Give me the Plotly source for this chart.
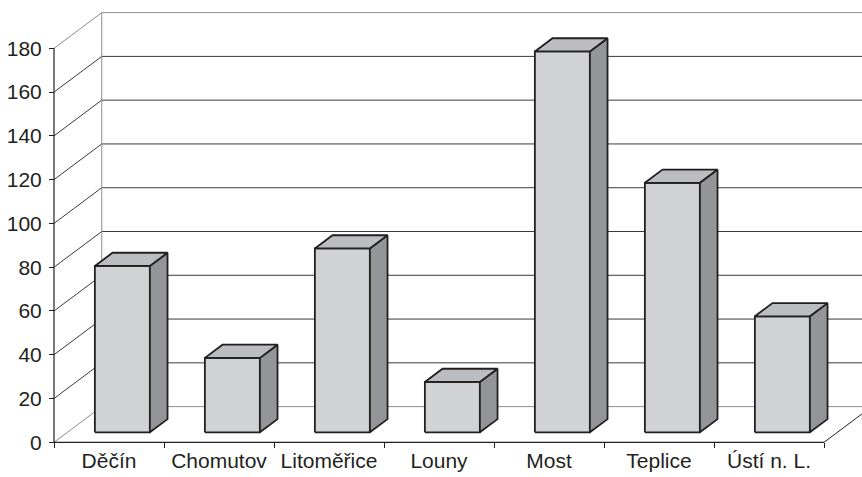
import plotly.graph_objects as go

# ---- data ----
categories = ["Děčín", "Chomutov", "Litoměřice", "Louny", "Most", "Teplice", "Ústí n. L."]
values = [76, 34, 84, 23, 174, 114, 53]
y_ticks = [0, 20, 40, 60, 80, 100, 120, 140, 160, 180]

# ---- oblique projection of the depth axis (in axis units) ----
DX = 0.434        # x shift (category units) from the front plane to the back wall
DY = 16.3         # y shift (value units) from the front plane to the back wall
BAR_Z0 = 0.28     # depth fraction where the bar front face sits
BAR_DEPTH = 0.37  # bar depth as a fraction of the full depth
BAR_HALF = 0.25   # half bar width in category units

FRONT = "#d1d2d4"
SIDE = "#939598"
TOP = "#bcbdc0"
EDGE = "#231f20"
GRID = "#3a3a3a"
FRAME = "#8e8e8e"

# ---- layout geometry (pixels) ----
W, H = 862, 477
ML, MB, MT, MR = 44, 30, 0, 0
PX_PER_CAT = 110.0
PX_PER_UNIT = 2.1889
AXIS_X_PX = 54      # left edge of the front plane
AXIS_Y_PX = 442.3   # value 0 on the front plane

plot_w = W - ML - MR
plot_h = H - MT - MB
x_lo = -0.5 - (AXIS_X_PX - ML) / PX_PER_CAT
x_hi = x_lo + plot_w / PX_PER_CAT
y_lo = -(H - MB - AXIS_Y_PX) / PX_PER_UNIT
y_hi = y_lo + plot_h / PX_PER_UNIT

fig = go.Figure()
shapes = []


def line(x0, y0, x1, y1, color, width=1.0):
    shapes.append(dict(type="line", xref="x", yref="y", x0=x0, y0=y0, x1=x1, y1=y1,
                       line=dict(color=color, width=width), layer="below"))


n = len(categories)
left = -0.5
right = n - 0.5

# back wall gridlines and left wall diagonals
for v in y_ticks:
    frame = v in (y_ticks[0], y_ticks[-1])
    line(left + DX, v + DY, x_hi + 1, v + DY, FRAME if frame else GRID)
    line(left, v, left + DX, v + DY, FRAME if frame else GRID)
# back wall left edge
line(left + DX, DY, left + DX, y_ticks[-1] + DY, FRAME)
# front floor edge and right floor diagonal
line(left, 0, right, 0, EDGE, 1.2)
line(right, 0, right + DX, DY, EDGE, 1.0)
# value axis line on the front plane
line(left, 0, left, y_ticks[-1], EDGE, 1.2)


def poly(xs, ys, fill):
    fig.add_trace(go.Scatter(
        x=xs + [xs[0]], y=ys + [ys[0]], mode="lines", fill="toself",
        fillcolor=fill, line=dict(color=EDGE, width=1.8),
        hoverinfo="skip", showlegend=False, xaxis="x", yaxis="y",
    ))


ox, oy = BAR_Z0 * DX, BAR_Z0 * DY
dx, dy = BAR_DEPTH * DX, BAR_DEPTH * DY
for i, v in enumerate(values):
    xl, xr = i - BAR_HALF + ox, i + BAR_HALF + ox
    yb, yt = oy, v + oy
    poly([xl, xr, xr, xl], [yb, yb, yt, yt], FRONT)
    poly([xr, xr + dx, xr + dx, xr], [yb, yb + dy, yt + dy, yt], SIDE)
    poly([xl, xr, xr + dx, xl + dx], [yt, yt, yt + dy, yt + dy], TOP)

font = dict(family="Liberation Sans, Arial, sans-serif", color=EDGE)
x_pos = (H - MB - AXIS_Y_PX) / plot_h
y_pos = (AXIS_X_PX - ML) / plot_w

fig.update_layout(
    width=W, height=H,
    margin=dict(l=ML, r=MR, t=MT, b=MB),
    paper_bgcolor="white", plot_bgcolor="white",
    showlegend=False,
    shapes=shapes,
    xaxis=dict(
        range=[x_lo, x_hi], anchor="free", position=x_pos,
        tickmode="array", tickvals=[k - 0.5 for k in range(n + 1)],
        ticktext=[""] * (n + 1), ticks="outside", ticklen=5,
        tickcolor=EDGE, tickwidth=1, showgrid=False, zeroline=False, showline=False,
    ),
    xaxis2=dict(
        range=[x_lo, x_hi], overlaying="x", anchor="free", position=x_pos, side="bottom",
        tickmode="array", tickvals=list(range(n)), ticktext=categories,
        ticks="", showgrid=False, zeroline=False, showline=False,
        tickfont=dict(size=21, **font), ticklabelstandoff=4,
    ),
    yaxis=dict(
        range=[y_lo, y_hi], anchor="free", position=y_pos,
        tickmode="array", tickvals=y_ticks, ticks="outside", ticklen=5,
        tickcolor=EDGE, tickwidth=1, showgrid=False, zeroline=False, showline=False,
        tickfont=dict(size=21, **font), ticklabelstandoff=3,
    ),
)

# a hidden trace so the label axis is drawn
fig.add_trace(go.Scatter(x=[0], y=[0], xaxis="x2", yaxis="y", mode="markers",
                         marker=dict(opacity=0), hoverinfo="skip", showlegend=False))

fig.write_html("out.html")
